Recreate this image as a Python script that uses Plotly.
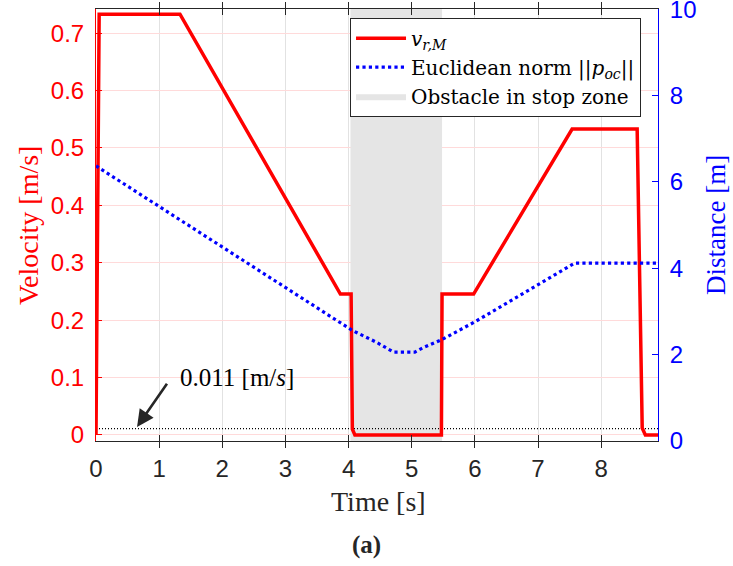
import plotly.graph_objects as go

# ---- data ----
t_vel = [0.0, 0.05, 1.33, 3.87, 4.04, 4.05, 4.06, 4.10, 5.47, 5.48, 5.98, 7.54, 8.57, 8.65, 8.70, 8.90]
vel = [0.0, 0.733, 0.733, 0.2455, 0.2455, 0.06, 0.01, 0.0, 0.0, 0.2455, 0.2455, 0.533, 0.533, 0.012, 0.0, 0.0]

t_dist = [0.0, 4.06, 4.45, 4.71, 5.05, 5.18, 5.48, 6.0, 7.58, 8.90]
dist = [6.37, 2.56, 2.28, 2.06, 2.06, 2.16, 2.35, 2.76, 4.12, 4.12]

obstacle_start, obstacle_end = 4.03, 5.48
threshold = 0.011
t_range = [0.0, 8.90]
v_range = [-0.0105, 0.742]
d_range = [0, 10.005]
x_ticks = [0, 1, 2, 3, 4, 5, 6, 7, 8]
v_ticks = [0, 0.1, 0.2, 0.3, 0.4, 0.5, 0.6, 0.7]
d_ticks = [0, 2, 4, 6, 8, 10]

SERIF = "Liberation Serif"
SANS = "Liberation Sans"
RED = "#ff0000"
BLUE = "#0000ff"
DARK = "#262626"

fig = go.Figure()

# obstacle zone (shaded)
fig.add_trace(go.Scatter(
    x=[obstacle_start, obstacle_end, obstacle_end, obstacle_start, obstacle_start],
    y=[v_range[0], v_range[0], v_range[1], v_range[1], v_range[0]],
    fill="toself", fillcolor="#e5e5e5", line=dict(width=0, color="#e5e5e5"),
    mode="lines", name="Obstacle in stop zone", legendrank=3, hoverinfo="skip",
))

# threshold line
fig.add_trace(go.Scatter(
    x=t_range, y=[threshold, threshold], mode="lines",
    line=dict(color="black", width=1.2, dash="1px,2px"), showlegend=False,
))

# velocity
fig.add_trace(go.Scatter(
    x=t_vel, y=vel, mode="lines", name="<i>v</i><sub><i>r,M</i></sub>",
    line=dict(color=RED, width=3.5), legendrank=1,
))

# distance
fig.add_trace(go.Scatter(
    x=t_dist, y=dist, mode="lines", name="Euclidean norm ||<i>p</i><sub><i>oc</i></sub>||",
    line=dict(color=BLUE, width=3.2, dash="dot"), yaxis="y2", legendrank=2,
))

fig.update_layout(
    width=733, height=566,
    margin=dict(l=96, r=75, t=9, b=125, autoexpand=False),
    plot_bgcolor="white", paper_bgcolor="white",
    showlegend=True,
    legend=dict(
        x=0.452, y=0.98, xanchor="left", yanchor="top",
        font=dict(family="DejaVu Serif", size=20, color="black"),
        bgcolor="white", bordercolor=DARK, borderwidth=1,
        itemwidth=50, tracegroupgap=0,
    ),
    xaxis=dict(
        range=t_range, tickvals=x_ticks, ticks="inside", ticklen=6,
        tickcolor=DARK, showline=True, linecolor=DARK, linewidth=1,
        mirror="allticks", showgrid=True, gridcolor="#e2e2e2", gridwidth=1,
        zeroline=False, tickfont=dict(family=SANS, size=24, color=DARK),
        ticklabelstandoff=6, automargin=False,
    ),
    yaxis=dict(
        range=v_range, tickvals=v_ticks, ticktext=[f"{v:g}" for v in v_ticks],
        ticks="inside", ticklen=6, tickcolor=RED,
        showline=True, linecolor=RED, linewidth=1, showgrid=True,
        gridcolor="#ffdada", gridwidth=1, zeroline=False,
        tickfont=dict(family=SANS, size=24, color=RED), ticklabelstandoff=6,
        ticklabeloverflow="allow", automargin=False,
    ),
    yaxis2=dict(
        range=d_range, tickvals=d_ticks, overlaying="y", side="right",
        ticks="inside", ticklen=6, tickcolor=BLUE,
        showline=True, linecolor=BLUE, linewidth=1, showgrid=False,
        zeroline=False, tickfont=dict(family=SANS, size=24, color=BLUE),
        ticklabelstandoff=6, ticklabeloverflow="allow", automargin=False,
    ),
)

annotations = [
    dict(text="Velocity [m/s]", xref="paper", yref="paper", x=-0.121, y=0.5,
         xanchor="center", yanchor="middle", textangle=-90, showarrow=False,
         font=dict(family=SERIF, size=28, color=RED)),
    dict(text="Distance [m]", xref="paper", yref="paper", x=1.103, y=0.5,
         xanchor="center", yanchor="middle", textangle=-90, showarrow=False,
         font=dict(family=SERIF, size=27, color=BLUE)),
    dict(text="Time [s]", xref="paper", yref="paper", x=0.502, y=-0.141,
         xanchor="center", yanchor="middle", showarrow=False,
         font=dict(family=SERIF, size=28, color=DARK)),
    dict(text="<b>(a)</b>", xref="paper", yref="paper", x=0.481, y=-0.241,
         xanchor="center", yanchor="middle", showarrow=False,
         font=dict(family=SERIF, size=25, color=DARK)),
    dict(text="", x=0.65, y=0.014, xref="x", yref="y", ax=1.14, ay=0.092,
         axref="x", ayref="y", showarrow=True, arrowhead=2, arrowsize=1.3,
         arrowwidth=2.6, arrowcolor=DARK),
    dict(text="0.011 [m/<i>s</i>]", x=1.295, y=0.0993, xref="x", yref="y",
         xanchor="left", yanchor="middle", showarrow=False,
         font=dict(family=SERIF, size=25, color="black")),
]
fig.update_layout(annotations=annotations)

fig.write_html("out.html")
